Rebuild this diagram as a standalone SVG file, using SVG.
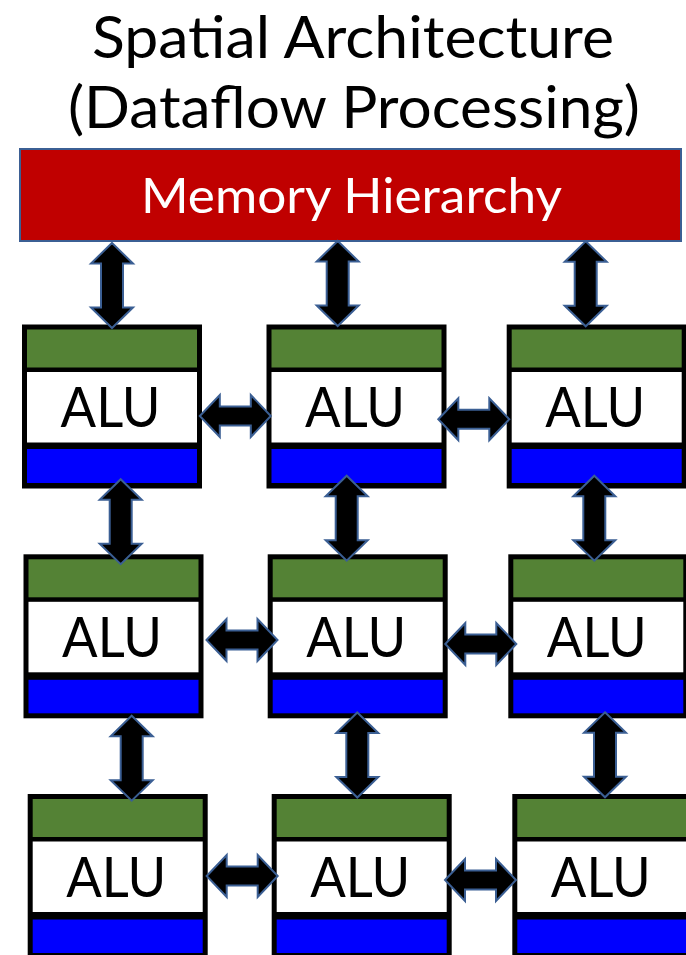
<svg xmlns="http://www.w3.org/2000/svg" xmlns:xlink="http://www.w3.org/1999/xlink" width="686" height="955" viewBox="0 0 686 955">
<style>
  .title { font-family: Lato, "Open Sans", "Liberation Sans", sans-serif; font-size: 58px; fill: #000; text-anchor: middle; }
  .mem-text { font-family: Lato, "Open Sans", "Liberation Sans", sans-serif; font-size: 49px; fill: #fff; text-anchor: middle; }
  .alu-text { font-family: Lato, "Open Sans", "Liberation Sans", sans-serif; font-size: 56.5px; fill: #000; text-anchor: middle; }
  .frame { fill: #000; }
  .green { fill: #548235; }
  .white { fill: #fff; }
  .blue { fill: #0000FF; }
  .arrow { fill: #000; stroke: #3B5F94; stroke-width: 2; stroke-linejoin: miter; }
</style>
<defs>
  <path id="varrow" class="arrow" d="M0,-42.5 L21,-22 L11,-22 L11,22 L21,22 L0,42.5 L-21,22 L-11,22 L-11,-22 L-21,-22 Z"/>
  <path id="harrow" class="arrow" d="M-35.5,0 L-15.5,-21 L-15.5,-9.5 L15.5,-9.5 L15.5,-21 L35.5,0 L15.5,21 L15.5,9.5 L-15.5,9.5 L-15.5,21 Z"/>
</defs>
<rect x="0" y="0" width="686" height="955" fill="#fff"/>

<g id="title">
  <text class="title" x="353" y="58" textLength="522" lengthAdjust="spacingAndGlyphs">Spatial Architecture</text>
  <text class="title" x="354" y="128" textLength="572" lengthAdjust="spacingAndGlyphs">(Dataflow Processing)</text>
</g>

<g id="memory">
  <rect x="20" y="149" width="661" height="92" fill="#C00000" stroke="#3B5F94" stroke-width="2"/>
  <text class="mem-text" x="351.5" y="213.3" textLength="421" lengthAdjust="spacingAndGlyphs">Memory Hierarchy</text>
</g>

<g id="alu-r1c1"><rect class="frame" x="22" y="324.5" width="180" height="164"/><rect class="green" x="27" y="329.5" width="170" height="38"/><rect class="white" x="27" y="372" width="170" height="70.5"/><rect class="blue" x="27" y="449" width="170" height="34"/><text class="alu-text" x="110.5" y="427.2" textLength="100" lengthAdjust="spacingAndGlyphs">ALU</text></g>
<g id="alu-r1c2"><rect class="frame" x="266.5" y="324.5" width="180" height="164"/><rect class="green" x="271.5" y="329.5" width="170" height="38"/><rect class="white" x="271.5" y="372" width="170" height="70.5"/><rect class="blue" x="271.5" y="449" width="170" height="34"/><text class="alu-text" x="355" y="427.2" textLength="100" lengthAdjust="spacingAndGlyphs">ALU</text></g>
<g id="alu-r1c3"><rect class="frame" x="506.7" y="324.5" width="180" height="164"/><rect class="green" x="511.7" y="329.5" width="170" height="38"/><rect class="white" x="511.7" y="372" width="170" height="70.5"/><rect class="blue" x="511.7" y="449" width="170" height="34"/><text class="alu-text" x="595.2" y="427.2" textLength="100" lengthAdjust="spacingAndGlyphs">ALU</text></g>

<g id="alu-r2c1"><rect class="frame" x="23.5" y="554.3" width="180" height="164"/><rect class="green" x="28.5" y="559.3" width="170" height="38"/><rect class="white" x="28.5" y="601.8" width="170" height="70.5"/><rect class="blue" x="28.5" y="679.8" width="170" height="33.5"/><text class="alu-text" x="112" y="657" textLength="100" lengthAdjust="spacingAndGlyphs">ALU</text></g>
<g id="alu-r2c2"><rect class="frame" x="267.7" y="554.3" width="180" height="164"/><rect class="green" x="272.7" y="559.3" width="170" height="38"/><rect class="white" x="272.7" y="601.8" width="170" height="70.5"/><rect class="blue" x="272.7" y="679.8" width="170" height="33.5"/><text class="alu-text" x="356.2" y="657" textLength="100" lengthAdjust="spacingAndGlyphs">ALU</text></g>
<g id="alu-r2c3"><rect class="frame" x="508.3" y="554.3" width="180" height="164"/><rect class="green" x="513.3" y="559.3" width="170" height="38"/><rect class="white" x="513.3" y="601.8" width="170" height="70.5"/><rect class="blue" x="513.3" y="679.8" width="170" height="33.5"/><text class="alu-text" x="596.8" y="657" textLength="100" lengthAdjust="spacingAndGlyphs">ALU</text></g>

<g id="alu-r3c1"><rect class="frame" x="27.7" y="794" width="180" height="164"/><rect class="green" x="32.7" y="799" width="170" height="38"/><rect class="white" x="32.7" y="841.5" width="170" height="70.5"/><rect class="blue" x="32.7" y="919.5" width="170" height="33.5"/><text class="alu-text" x="116.2" y="896.7" textLength="100" lengthAdjust="spacingAndGlyphs">ALU</text></g>
<g id="alu-r3c2"><rect class="frame" x="271.7" y="794" width="180" height="164"/><rect class="green" x="276.7" y="799" width="170" height="38"/><rect class="white" x="276.7" y="841.5" width="170" height="70.5"/><rect class="blue" x="276.7" y="919.5" width="170" height="33.5"/><text class="alu-text" x="360.2" y="896.7" textLength="100" lengthAdjust="spacingAndGlyphs">ALU</text></g>
<g id="alu-r3c3"><rect class="frame" x="512.3" y="794" width="180" height="164"/><rect class="green" x="517.3" y="799" width="170" height="38"/><rect class="white" x="517.3" y="841.5" width="170" height="70.5"/><rect class="blue" x="517.3" y="919.5" width="170" height="33.5"/><text class="alu-text" x="600.8" y="896.7" textLength="100" lengthAdjust="spacingAndGlyphs">ALU</text></g>

<g id="connectors">
  <use xlink:href="#varrow" x="112" y="285.5"/>
  <use xlink:href="#varrow" x="337.7" y="283.5"/>
  <use xlink:href="#varrow" x="585.7" y="283.8"/>

  <use xlink:href="#varrow" x="120.7" y="521.7"/>
  <use xlink:href="#varrow" x="346.7" y="518.2"/>
  <use xlink:href="#varrow" x="594.3" y="518.2"/>

  <use xlink:href="#varrow" x="131.7" y="758.2"/>
  <use xlink:href="#varrow" x="357.3" y="755"/>
  <use xlink:href="#varrow" x="605" y="754.8"/>

  <use xlink:href="#harrow" x="235.3" y="416"/>
  <use xlink:href="#harrow" x="473.8" y="419.3"/>

  <use xlink:href="#harrow" x="242" y="640"/>
  <use xlink:href="#harrow" x="480.8" y="644"/>

  <use xlink:href="#harrow" x="242.2" y="876"/>
  <use xlink:href="#harrow" x="480.5" y="880"/>
</g>
</svg>
